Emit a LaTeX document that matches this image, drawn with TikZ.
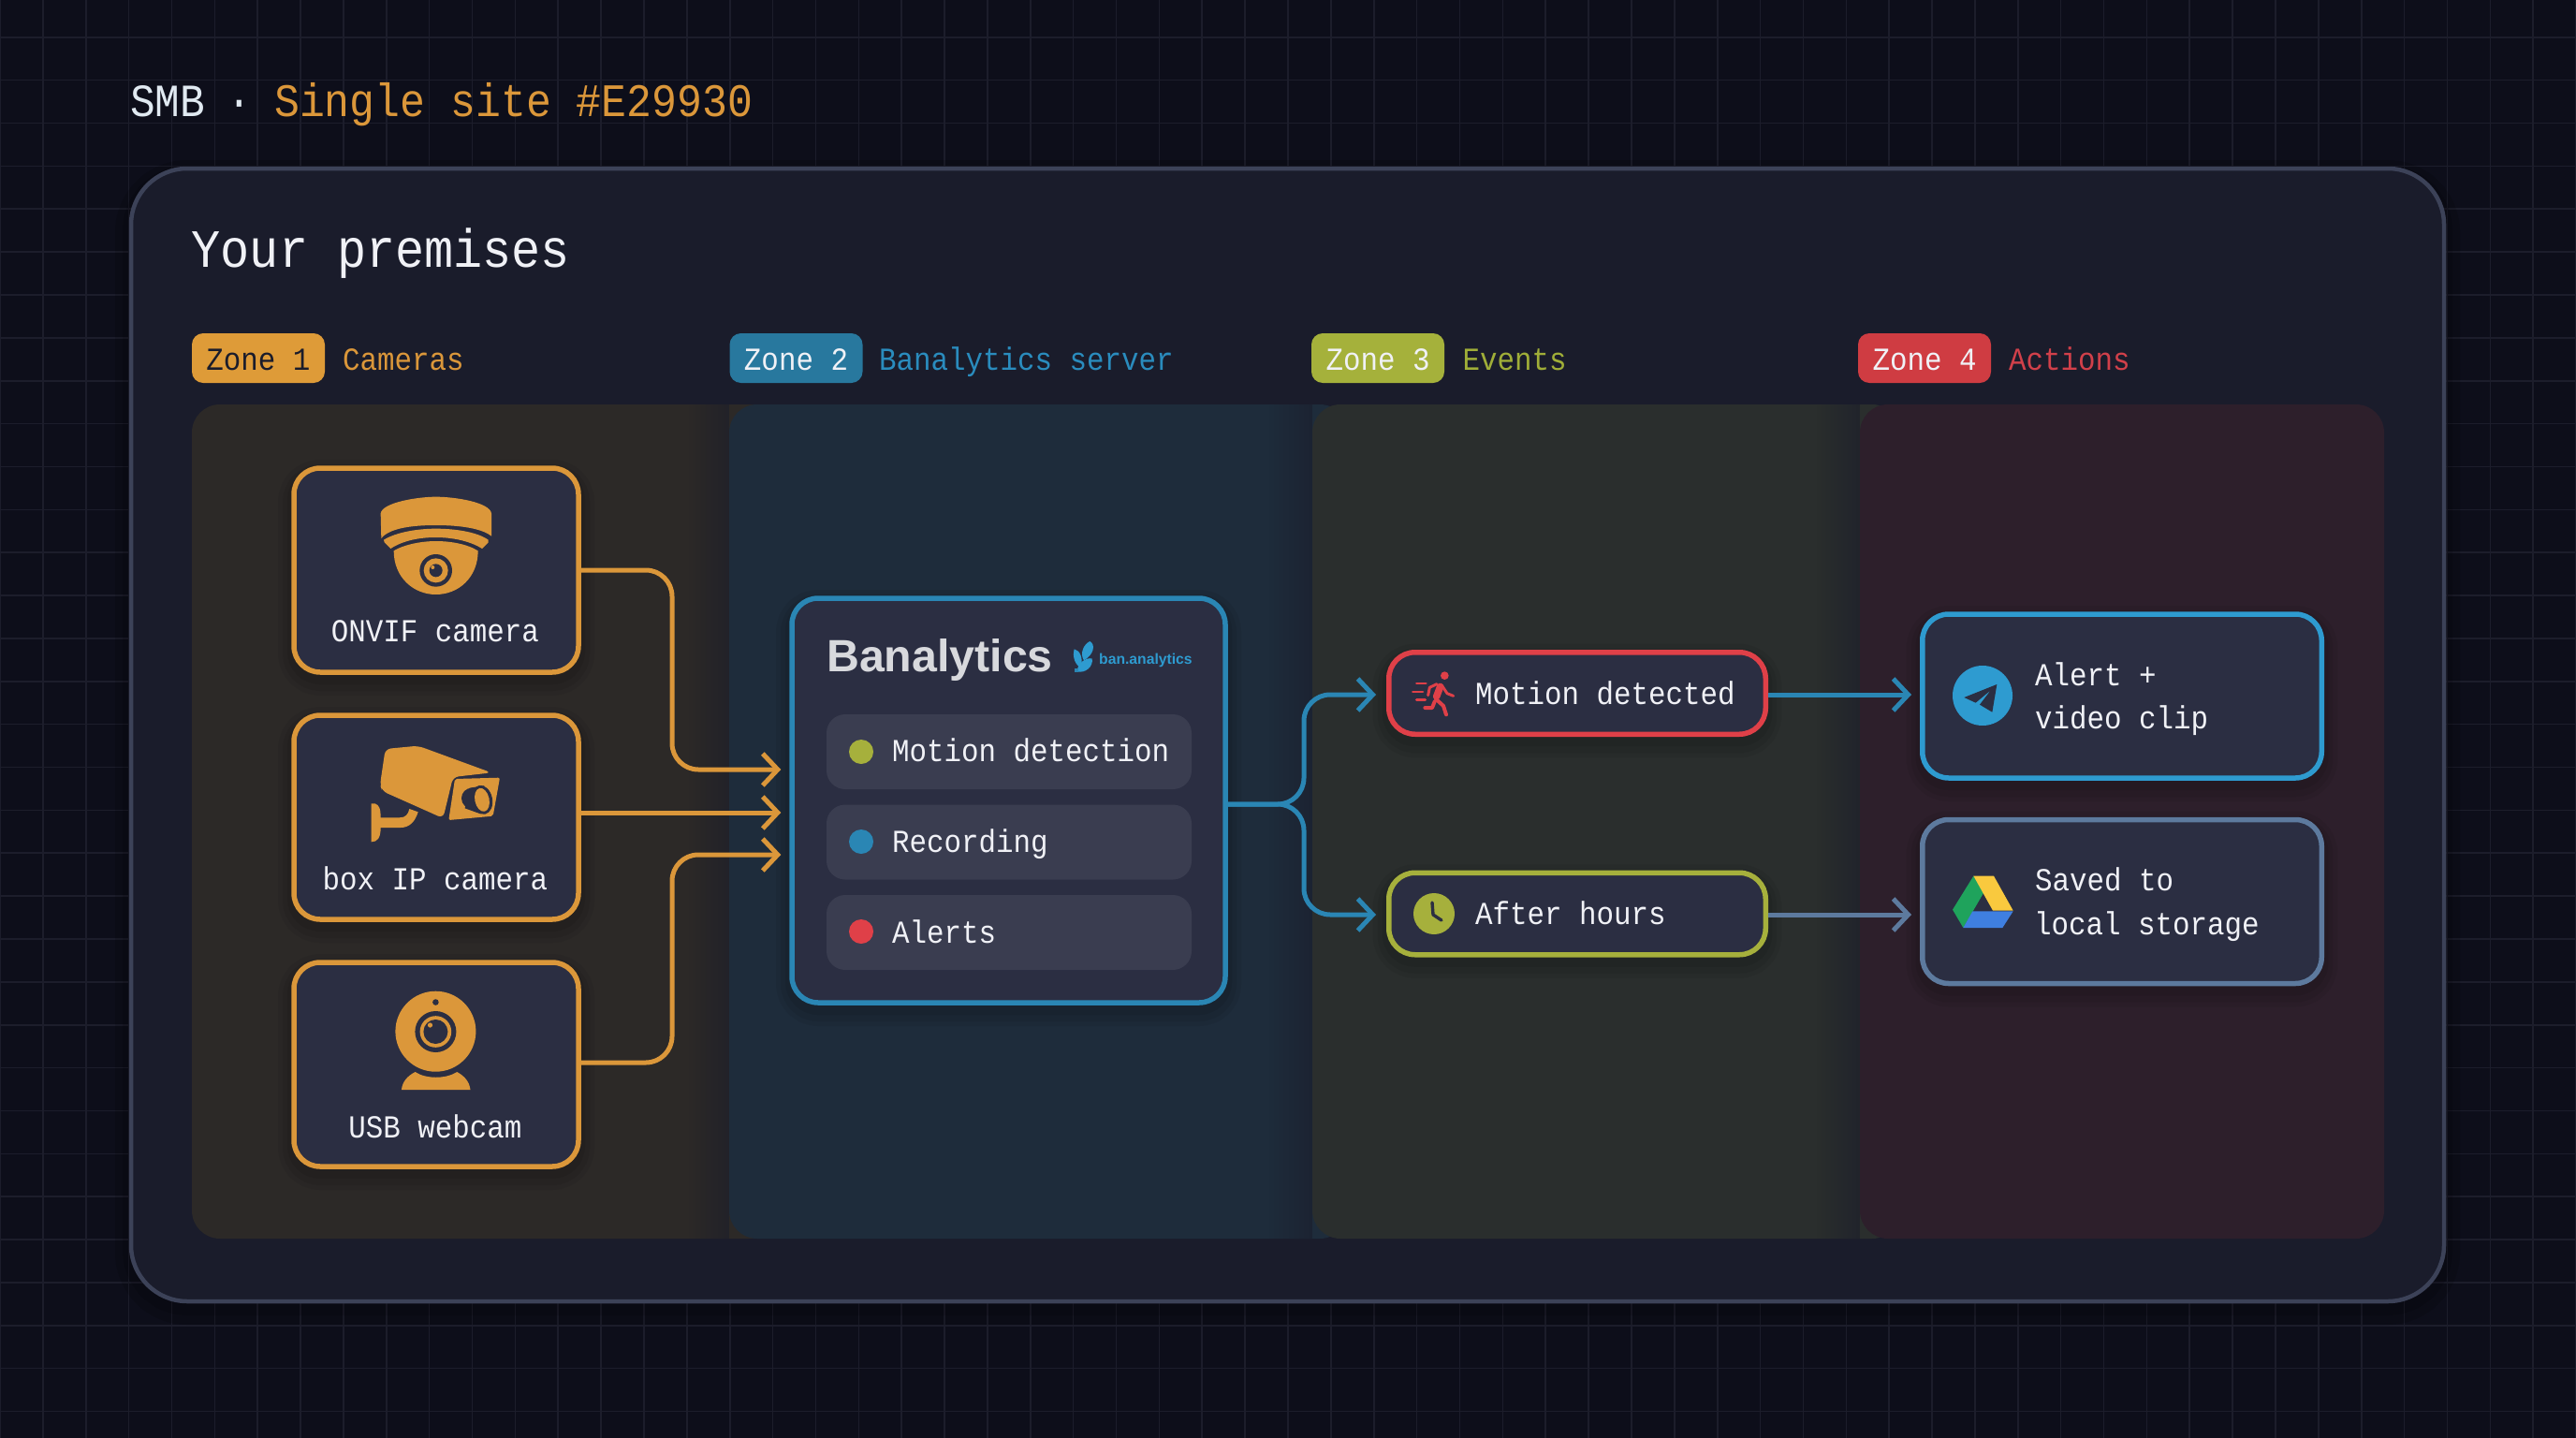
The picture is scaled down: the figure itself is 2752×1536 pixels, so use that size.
\documentclass[tikz,border=0pt]{standalone}
\usepackage{fontspec}
\setmainfont{Liberation Sans}
\newfontfamily\mono[FakeStretch=0.9]{Liberation Mono}
\usetikzlibrary{arrows.meta,fadings,calc}
\definecolor{bgc}{HTML}{0D0E1A}
\definecolor{gridc}{HTML}{1C1D2B}
\definecolor{panelc}{HTML}{1A1C2B}
\definecolor{panelb}{HTML}{3C4258}
\definecolor{boxc}{HTML}{2B2E42}
\definecolor{rowc}{HTML}{3A3D50}
\definecolor{amber}{HTML}{DB973A}
\definecolor{tblue}{HTML}{2A86B4}
\definecolor{blueb}{HTML}{2E9BD0}
\definecolor{tgreen}{HTML}{A6B03C}
\definecolor{tred}{HTML}{DF4048}
\definecolor{slate}{HTML}{5D7A9E}
\definecolor{zonea}{HTML}{2C2927}
\definecolor{zoneb}{HTML}{1E2C3B}
\definecolor{zonec}{HTML}{2A2E2D}
\definecolor{zoned}{HTML}{2D1F2B}
\definecolor{ink}{HTML}{F0F1F6}
\definecolor{drvg}{HTML}{1FA35C}
\definecolor{drvy}{HTML}{F9C93E}
\definecolor{drvb}{HTML}{3F7FE0}
\definecolor{pza}{HTML}{DE9B38}
\definecolor{pzb}{HTML}{28789E}
\definecolor{pzc}{HTML}{A5B13B}
\definecolor{pzd}{HTML}{CF3C42}
\definecolor{lzb}{HTML}{2A8CBE}
\definecolor{lzc}{HTML}{A0AE38}
\definecolor{lzd}{HTML}{D1404A}
\tikzset{
  softshadow/.style={
    preaction={draw=black,draw opacity=.05,line width=34pt,transform canvas={yshift=-8pt}},
    preaction={draw=black,draw opacity=.06,line width=24pt,transform canvas={yshift=-8pt}},
    preaction={draw=black,draw opacity=.07,line width=14pt,transform canvas={yshift=-6pt}}},
  card/.style={draw=#1,line width=5.5pt,fill=boxc,rounded corners=28pt,softshadow,inner sep=0pt},
  camcard/.style={card=amber,minimum width=304pt,minimum height=218pt},
  evcard/.style={card=#1,minimum width=402.5pt,minimum height=87.5pt},
  actcard/.style={card=#1,minimum width=426.5pt,minimum height=175pt},
  rowpill/.style={fill=rowc,rounded corners=20pt,minimum width=390pt,minimum height=80pt,inner sep=0pt},
  dotm/.style={circle,fill=#1,minimum size=26pt,inner sep=0pt},
  zonepill/.style={fill=#1,rounded corners=12pt,minimum width=142pt,minimum height=53pt,inner sep=0pt,text height=25pt,text depth=0pt,font=\mono\fontsize{34.26}{46}\selectfont},
  lbl/.style={inner sep=0pt,text=ink,anchor=base west,font=\mono\fontsize{34.26}{46}\selectfont},
  lblc/.style={lbl,anchor=base},
  zlbl/.style={lbl,text=#1},
  conn/.style={draw=#1,line width=5pt,rounded corners=28pt,-{Straight Barb[length=16pt,width=34pt,line width=5pt]}},
  band/.style={fill=#1,rounded corners=30pt},
  seam/.style={fill=panelc,opacity=.55,path fading=west},
}
\begin{document}
\begin{tikzpicture}[x=1pt,y=-1pt,line join=round]
\useasboundingbox (0,0) rectangle (2752,1536);
\fill[bgc] (0,0) rectangle (2752,1536);
\foreach \k in {0,...,60} \draw[gridc,line width=1.6pt] ({\k*45.867},0) -- ({\k*45.867},1536);
\foreach \k in {0,...,33} \draw[gridc,line width=1.6pt] (0,{39.8+\k*45.867}) -- (2752,{39.8+\k*45.867});
% header
\node[lbl,text=ink!92!tblue,font=\mono\fontsize{49.3}{60}\selectfont] (hdr) at (139,125) {SMB};
\node[lbl,anchor=base,text=ink!92!tblue,font=\mono\fontsize{49.3}{60}\selectfont] (hdrd) at (256,125) {·};
\node[lbl,text=amber,font=\mono\fontsize{49.8}{60}\selectfont] (hdrs) at (293,125) {Single site \#E29930};
% outer panel
\node[draw=panelb,line width=4.5pt,fill=panelc,rounded corners=60pt,minimum width=2471pt,minimum height=1210pt,inner sep=0pt,
  preaction={draw=black,draw opacity=.12,line width=34pt,transform canvas={yshift=-8pt}},
  preaction={draw=black,draw opacity=.12,line width=18pt,transform canvas={yshift=-6pt}}] (panel) at (1375.5,785) {};
\node[lbl,font=\mono\fontsize{57.6}{66}\selectfont] (premises) at (204.5,285) {Your premises};
% zone bands
\fill[band=zonea] (205,432) rectangle (830,1323);
\fill[seam] (735,432) rectangle (779,1323);
\fill[band=zoneb] (779,432) rectangle (1440,1323);
\fill[seam] (1355,432) rectangle (1402,1323);
\fill[band=zonec] (1402,432) rectangle (2030,1323);
\fill[seam] (1940,432) rectangle (1987,1323);
\fill[band=zoned] (1987,432) rectangle (2547,1323);
% zone headers
\node[zonepill=pza,text=panelc] (z1) at (276,382.5) {Zone 1};
\node[zlbl=amber] (z1t) at (366,395) {Cameras};
\node[zonepill=pzb,text=ink] (z2) at (850.5,382.5) {Zone 2};
\node[zlbl=lzb] (z2t) at (939,395) {Banalytics server};
\node[zonepill=pzc,text=ink] (z3) at (1472,382.5) {Zone 3};
\node[zlbl=lzc] (z3t) at (1562.5,395) {Events};
\node[zonepill=pzd,text=ink] (z4) at (2056,382.5) {Zone 4};
\node[zlbl=lzd] (z4t) at (2146,395) {Actions};
% cards
\node[camcard] (onvif) at (466,609) {};
\node[camcard] (boxcam) at (466,873) {};
\node[camcard] (webcam) at (466,1137) {};
\node[card=tblue,minimum width=463pt,minimum height=432pt] (ban) at (1077.5,855) {};
\node[evcard=tred] (motion) at (1685,740.5) {};
\node[evcard=tgreen] (after) at (1685,976) {};
\node[actcard=blueb] (alert) at (2267,743.5) {};
\node[actcard=slate] (saved) at (2267,963) {};
% connector anchors
\coordinate (busa) at (718,0);
\coordinate (busb) at (1393,0);
\coordinate (in1) at ([xshift=-9pt,yshift=33pt]ban.west);
\coordinate (in2) at ([xshift=-9pt,yshift=-13pt]ban.west);
\coordinate (in3) at ([xshift=-9pt,yshift=-58pt]ban.west);
\coordinate (out2) at ([yshift=5pt]boxcam.east);
\coordinate (out3) at ([yshift=2pt]webcam.east);
\coordinate (outb) at ([yshift=-4pt]ban.east);
\coordinate (evm) at ([xshift=-11pt,yshift=-1.5pt]motion.west);
\coordinate (eva) at ([xshift=-11pt,yshift=-1pt]after.west);
\coordinate (outm) at ([yshift=-1.5pt]motion.east);
\coordinate (outa) at ([yshift=-1pt]after.east);
\coordinate (ina) at ([xshift=-9pt,yshift=1.5pt]alert.west);
\coordinate (ins) at ([xshift=-9pt,yshift=-14pt]saved.west);
% connectors
\draw[conn=amber] (onvif.east) -| (busa |- in1) -- (in1);
\draw[conn=amber] (out2) -- (in2);
\draw[conn=amber] (out3) -| (busa |- in3) -- (in3);
\draw[conn=tblue] (outb) -| (busb |- evm) -- (evm);
\draw[conn=tblue] (outb) -| (busb |- eva) -- (eva);
\draw[conn=tblue] (outm) -- (ina);
\draw[conn=slate] (outa) -- (ins);
% camera labels
\node[lblc] (onvifl) at (465,685) {ONVIF camera};
\node[lblc] (boxl) at (465,950) {box IP camera};
\node[lblc] (webl) at (465,1215) {USB webcam};
% dome camera icon
\begin{scope}[shift={(280,480)},x=.33333pt,y=-.33333pt]
\fill[amber] (380,205) .. controls (385,170) and (500,152) .. (557,152) .. controls (620,152) and (730,170) .. (735,205) -- (735,278) .. controls (700,250) and (620,243) .. (557,243) .. controls (490,243) and (410,250) .. (382,285) -- cycle;
\fill[amber] (390,290) .. controls (430,265) and (500,254) .. (557,254) .. controls (620,254) and (690,265) .. (725,290) -- (725,298) -- (705,318) .. controls (660,290) and (600,282) .. (557,282) .. controls (510,282) and (455,290) .. (412,318) -- (392,298) -- cycle;
\fill[amber] (422,325) .. controls (460,302) and (520,294) .. (557,294) .. controls (600,294) and (655,302) .. (692,325) .. controls (692,410) and (630,465) .. (557,465) .. controls (485,465) and (422,410) .. (422,325) -- cycle;
\fill[boxc] (557,388) circle[radius=52];
\fill[amber] (557,388) circle[radius=39];
\fill[boxc] (557,388) circle[radius=21];
\fill[amber] (547,378) circle[radius=6];
% box camera icon
\fill[amber,rounded corners=6pt] (395,960) -- (500,950) -- (735,1036) -- (612,1050) -- (580,1182) -- (385,1095) -- (378,1075) -- cycle;
\fill[amber,rounded corners=2pt] (618,1056) -- (762,1052) -- (740,1175) -- (598,1188) -- cycle;
\fill[boxc] (672,1118) circle[radius=33];
\fill[boxc,rotate around={12:(705,1123)}] (705,1123) ellipse[x radius=33,y radius=47];
\fill[boxc] (665,1085) -- (712,1078) -- (700,1168) -- (650,1150) -- cycle;
\fill[amber,rotate around={12:(705,1123)}] (705,1123) ellipse[x radius=23,y radius=38];
\fill[amber] (350,1135) -- (362,1135) .. controls (375,1140) and (380,1150) .. (380,1180) -- (440,1180) .. controls (460,1180) and (468,1170) .. (472,1152) -- (500,1162) .. controls (490,1195) and (470,1212) .. (445,1212) -- (380,1212) .. controls (380,1245) and (370,1258) .. (350,1258) -- cycle;
\end{scope}
% webcam icon
\fill[amber] (465.4,1101.7) circle[radius=43];
\fill[boxc] (465.4,1070.5) circle[radius=3.3];
\fill[boxc] (465.4,1102) circle[radius=22];
\fill[amber] (465.4,1102) circle[radius=16.8];
\fill[boxc] (465.4,1102) circle[radius=13];
\fill[amber] (459.5,1095) circle[radius=2.6];
\begin{scope}[shift={(280,1000)},x=.35714pt,y=-.33333pt]
\fill[amber] (417,492) .. controls (420,465) and (435,448) .. (458,435) .. controls (490,458) and (550,458) .. (583,435) .. controls (605,448) and (620,465) .. (623,492) -- cycle;
\end{scope}
% Banalytics card content
\node[inner sep=0pt,anchor=base west,font=\bfseries\fontsize{48.3}{56}\selectfont,text=ink!90!black] (bant) at (883,717) {Banalytics};
\node[inner sep=0pt,anchor=base west,font=\bfseries\fontsize{15.7}{18}\selectfont,text=blueb] (bans) at (1174,709) {ban.analytics};
\begin{scope}[shift={(830,620)},x=.33333pt,y=-.33333pt]
\fill[blueb] (1003,195) .. controls (1022,205) and (1016,238) .. (984,256) .. controls (970,235) and (982,205) .. (1003,195) -- cycle;
\fill[blueb] (1010,250) .. controls (1015,277) and (988,298) .. (962,292) .. controls (962,268) and (988,246) .. (1010,250) -- cycle;
\fill[blueb] (953,220) .. controls (972,224) and (982,250) .. (975,280) .. controls (956,272) and (946,245) .. (953,220) -- cycle;
\fill[tblue] (955,283) rectangle (966,293);
\end{scope}
\node[rowpill] (r1) at (1078,803) {};
\node[rowpill] (r2) at (1078,899.5) {};
\node[rowpill] (r3) at (1078,996) {};
\node[dotm=tgreen] (d1) at (920,803) {};
\node[dotm=tblue] (d2) at (920,899) {};
\node[dotm=tred] (d3) at (920,995) {};
\node[lbl] (r1t) at (953,813) {Motion detection};
\node[lbl] (r2t) at (953,910) {Recording};
\node[lbl] (r3t) at (953,1007) {Alerts};
% event cards content
\node[lbl] (mt) at (1576,752) {Motion detected};
\node[lbl] (at) at (1576,987) {After hours};
\begin{scope}[shift={(1470,700)},x=.33333pt,y=-.33333pt]
\fill[tred] (220,65) circle[radius=13];
\draw[tred,line width=2.8pt,line cap=round] (130,90) -- (160,90) (118,117) -- (150,117) (130,142) -- (158,142);
\draw[tred,line width=3pt,line cap=round] (212,98) -- (228,122) -- (248,130);
\draw[tred,line width=3pt,line cap=round] (195,92) -- (172,103) -- (167,128);
\draw[tred,line width=7.5pt,line cap=round] (206,100) -- (194,132);
\draw[tred,line width=4pt,line cap=round] (192,140) -- (216,162) -- (225,190);
\draw[tred,line width=4pt,line cap=round] (188,148) -- (180,168) -- (157,168);
\end{scope}
\fill[tgreen] (1532,976) circle[radius=22];
\draw[boxc,line width=3.4pt,line cap=round] (1530,964) -- (1531,977) -- (1540,983);
% action cards content
\node[lbl] (al1) at (2174,732) {Alert +};
\node[lbl] (al2) at (2174,778) {video clip};
\node[lbl] (sv1) at (2174,951) {Saved to};
\node[lbl] (sv2) at (2173,998) {local storage};
\fill[blueb] (2118,743) circle[radius=32];
\begin{scope}[shift={(2020,630)},x=.33333pt,y=-.33333pt]
\fill[boxc] (340,303) -- (235,345) -- (272,362) -- (320,322) -- (285,368) -- (325,392) -- cycle;
\fill[drvg] (265,917) -- (298,970) -- (232,1083) -- (198,1025) -- cycle;
\fill[drvy] (265,917) -- (330,917) -- (392,1028) -- (327,1028) -- cycle;
\fill[drvb] (262,1030) -- (392,1030) -- (358,1083) -- (232,1083) -- cycle;
\end{scope}
\end{tikzpicture}
\end{document}
